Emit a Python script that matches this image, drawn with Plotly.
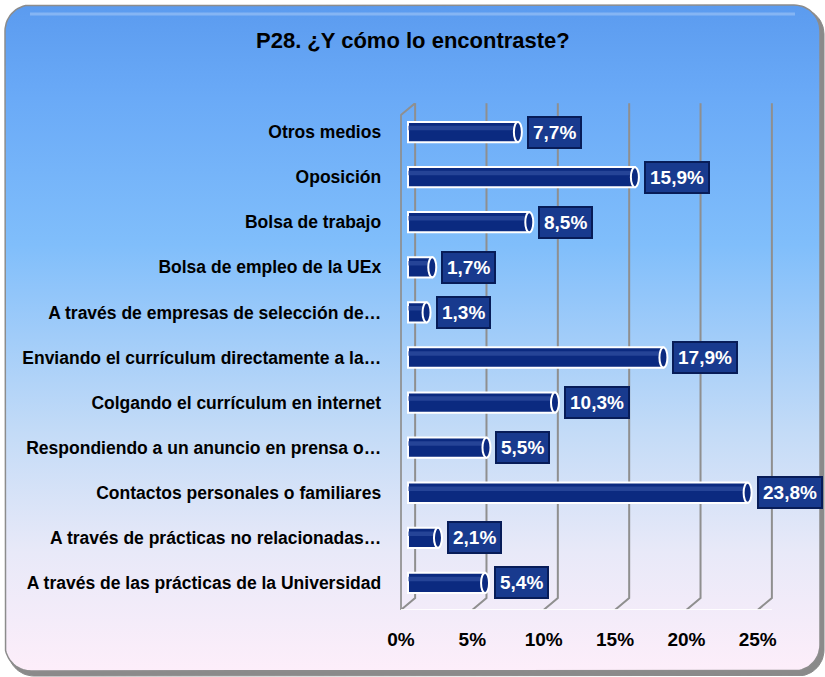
import numpy as np
import plotly.graph_objects as go

W, H = 825, 677

# ---- data (bottom to top) ----
categories = [
    "A través de las prácticas de la Universidad",
    "A través de prácticas no relacionadas…",
    "Contactos personales o familiares",
    "Respondiendo a un anuncio en prensa o…",
    "Colgando el currículum en internet",
    "Enviando el currículum directamente a la…",
    "A través de empresas de selección de…",
    "Bolsa de empleo de la UEx",
    "Bolsa de trabajo",
    "Oposición",
    "Otros medios",
]
values = [5.4, 2.1, 23.8, 5.5, 10.3, 17.9, 1.3, 1.7, 8.5, 15.9, 7.7]
value_labels = ["5,4%", "2,1%", "23,8%", "5,5%", "10,3%", "17,9%", "1,3%", "1,7%", "8,5%", "15,9%", "7,7%"]
tick_vals = [0, 5, 10, 15, 20, 25]
tick_text = ["0%", "5%", "10%", "15%", "20%", "25%"]
title_text = "P28. ¿Y cómo lo encontraste?"

FONT = "Liberation Sans, Arial, sans-serif"
NAVY = "#0b2a80"

# ---- rounded background rectangle (pixel coordinates on full-figure axes) ----
def rounded_rect(x0, y0, x1, y1, r, n=16):
    pts = []
    corners = [(x1 - r, y1 - r, 0, 90), (x0 + r, y1 - r, 90, 180),
               (x0 + r, y0 + r, 180, 270), (x1 - r, y0 + r, 270, 360)]
    for cx, cy, a0, a1 in corners:
        for a in np.linspace(np.radians(a0), np.radians(a1), n):
            pts.append((cx + r * np.cos(a), cy + r * np.sin(a)))
    pts.append(pts[0])
    xs, ys = zip(*pts)
    return list(xs), list(ys)

fig = go.Figure()

# shadow
sx, sy = rounded_rect(8, H - 676, 824, H - 8, 26)
fig.add_trace(go.Scatter(x=sx, y=sy, mode="lines", fill="toself", fillcolor="#8a8a8a",
                         line=dict(color="#8a8a8a", width=1), hoverinfo="skip",
                         showlegend=False, xaxis="x", yaxis="y"))
# main box with gradient
bx, by = rounded_rect(5, H - 671, 820, H - 5, 26)
fig.add_trace(go.Scatter(
    x=bx, y=by, mode="lines", fill="toself",
    fillgradient=dict(type="vertical", start=H - 671, stop=H - 5,
                      colorscale=[[0.0, "#fdeefa"], [0.18, "#e8e9f8"], [0.36, "#c3dbf7"],
                                  [0.64, "#80befb"], [0.86, "#6aaaf7"], [1.0, "#5b9bef"]]),
    line=dict(color="#8c8c8c", width=1.5), hoverinfo="skip", showlegend=False,
    xaxis="x", yaxis="y"))
# top gloss highlight
fig.add_trace(go.Scatter(x=[30, 795], y=[H - 14, H - 14], mode="lines",
                         line=dict(color="rgba(255,255,255,0.25)", width=3),
                         hoverinfo="skip", showlegend=False, xaxis="x", yaxis="y"))

# ---- bars ----
ypos = list(range(len(categories)))
fig.add_trace(go.Bar(
    x=values, y=ypos, orientation="h", width=0.45,
    marker=dict(color=NAVY, line=dict(color="white", width=2)),
    hoverinfo="skip", showlegend=False, xaxis="x2", yaxis="y2"))
# lighter top stripe for cylinder look
fig.add_trace(go.Bar(
    x=values, y=[p + 0.09 for p in ypos], orientation="h", width=0.1,
    marker=dict(color="rgba(60,90,170,0.55)", line=dict(width=0)),
    hoverinfo="skip", showlegend=False, xaxis="x2", yaxis="y2"))
fig.update_layout(barmode="overlay")

shapes = []
# end caps
for v, p in zip(values, ypos):
    shapes.append(dict(type="circle", xref="x2", yref="y2", xsizemode="pixel", ysizemode="pixel",
                       xanchor=v, yanchor=p, x0=-4, x1=4, y0=-10, y1=10,
                       fillcolor=NAVY, line=dict(color="white", width=2), layer="above"))

# ---- 3D style gridlines ----
GRID = "#8f8f8f"
ytop, yback_bot, yfront = 10.64, -0.334, -0.6
for t in tick_vals:
    shapes.append(dict(type="path", xref="x2", yref="y2",
                       path=f"M {t + 0.5},{ytop} L {t + 0.5},{yback_bot} L {t - 0.5},{yfront}",
                       line=dict(color=GRID, width=2), layer="below"))
# left wall front edge
shapes.append(dict(type="path", xref="x2", yref="y2",
                   path=f"M {-0.5},{yfront} L {-0.5},{10.376} L {0.5},{ytop}",
                   line=dict(color=GRID, width=2), layer="below"))
# floor front edge
shapes.append(dict(type="line", xref="x2", yref="y2", x0=-0.5, x1=25.5, y0=yfront, y1=yfront,
                   line=dict(color="rgba(255,255,255,0.9)", width=2), layer="below"))

# ---- value labels ----
annotations = []
for v, p, lab in zip(values, ypos, value_labels):
    annotations.append(dict(x=v, y=p, xref="x2", yref="y2", text=f"<b>{lab}</b>",
                            showarrow=False, xanchor="left", yanchor="middle", xshift=9,
                            font=dict(family=FONT, size=19, color="white"),
                            bgcolor="#183a8e", bordercolor="#071c58", borderwidth=2,
                            borderpad=4))
annotations.append(dict(x=0.5, y=1 - 40 / H, xref="paper", yref="paper",
                        text=f"<b>{title_text}</b>", showarrow=False,
                        xanchor="center", yanchor="middle",
                        font=dict(family=FONT, size=22, color="black")))

x_lo, x_hi = -0.55, 25.6
px0 = 408 + x_lo * 14.27
px1 = 408 + x_hi * 14.27

fig.update_layout(
    width=W, height=H,
    margin=dict(l=0, r=0, t=0, b=0, pad=0, autoexpand=False),
    paper_bgcolor="white", plot_bgcolor="rgba(0,0,0,0)",
    xaxis=dict(domain=[0, 1], range=[0, W], visible=False, fixedrange=True, automargin=False),
    yaxis=dict(domain=[0, 1], range=[0, H], visible=False, fixedrange=True, automargin=False),
    xaxis2=dict(domain=[px0 / W, px1 / W], range=[x_lo, x_hi], anchor="y2", automargin=False,
                tickvals=tick_vals, ticktext=[f"<b>{t}</b>" for t in tick_text],
                ticklabelshift=-7, ticklabelstandoff=16,
                showgrid=False, zeroline=False, showline=False, ticks="",
                tickfont=dict(family=FONT, size=19, color="black")),
    yaxis2=dict(domain=[(H - 610) / H, (H - 103) / H], range=[-0.6, 10.644], anchor="x2",
                automargin=False,
                tickvals=ypos, ticktext=[f"<b>{c}</b>" for c in categories],
                showgrid=False, zeroline=False, showline=False, ticks="",
                ticklabelstandoff=18,
                tickfont=dict(family=FONT, size=17.5, color="black")),
    shapes=shapes, annotations=annotations,
)

fig.write_html("out.html", config={"displayModeBar": False},
               post_script="document.body.style.margin='0';document.body.style.overflow='hidden';")
